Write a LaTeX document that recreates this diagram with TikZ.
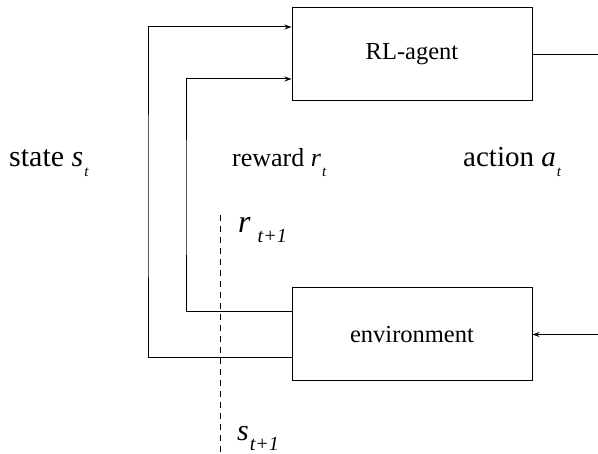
\documentclass[tikz,border=0pt]{standalone}
\usepackage{fontspec}
\setmainfont{Liberation Serif}
\usetikzlibrary{arrows.meta}
\newcommand{\varsub}[3][15]{\textit{#2}\kern1pt\raisebox{-10pt}{\fontsize{#1}{#1}\selectfont\textit{#3}}}
\newcommand{\fsize}[1]{\fontsize{#1}{#1}\selectfont}
\tikzset{
  block/.style={draw,line width=1pt,minimum width=240pt,minimum height=93pt,inner sep=0pt,font=\fsize{24.5}},
  lbl/.style={anchor=base west,inner sep=0pt,font=\fsize{26}},
  link/.style={line width=1pt},
}
\begin{document}
\begin{tikzpicture}[>={Stealth[length=7pt,width=5pt]},x=1pt,y=-1pt]
  \useasboundingbox (0,0) rectangle (598,454);
  % blocks
  \node[block] (agent) at (412,54.5) {RL-agent};
  \node[block] (env) at (412,334.5) {environment};
  % corners of the loops
  \coordinate (sx) at (148,200);
  \coordinate (rx) at (186,200);
  \coordinate (aout) at (598,54.5);
  \coordinate (ain) at (598,334.5);
  % feedback to the agent
  \draw[link,->] ([yshift=-23.5pt]env.west) -| (sx) |- ([yshift=27.5pt]agent.west);
  \draw[link,->] ([yshift=22.5pt]env.west) -| (rx) |- ([yshift=-24.5pt]agent.west);
  % action
  \draw[link] (agent.east) -- (aout);
  \draw[link,->] (ain) -- (env.east);
  % time step
  \coordinate (dtop) at (220,215);
  \coordinate (dbot) at (220,454);
  \draw[link,dash pattern=on 6pt off 5pt] (dtop) -- (dbot);
  % labels
  \node[lbl,font=\fsize{30}] (state) at (9,167) {state \varsub{s}{t}};
  \node[lbl] (reward) at (232,167) {reward \varsub{r}{t}};
  \node[lbl,font=\fsize{29}] (action) at (463,167) {action \varsub{a}{t}};
  \node[lbl,font=\fsize{32}] (rnext) at (238,233) {\varsub[20]{r}{\kern6pt t+1}};
  \node[lbl,font=\fsize{30}] (snext) at (237,441) {\varsub[20]{s}{t+1}};
\end{tikzpicture}
\end{document}
